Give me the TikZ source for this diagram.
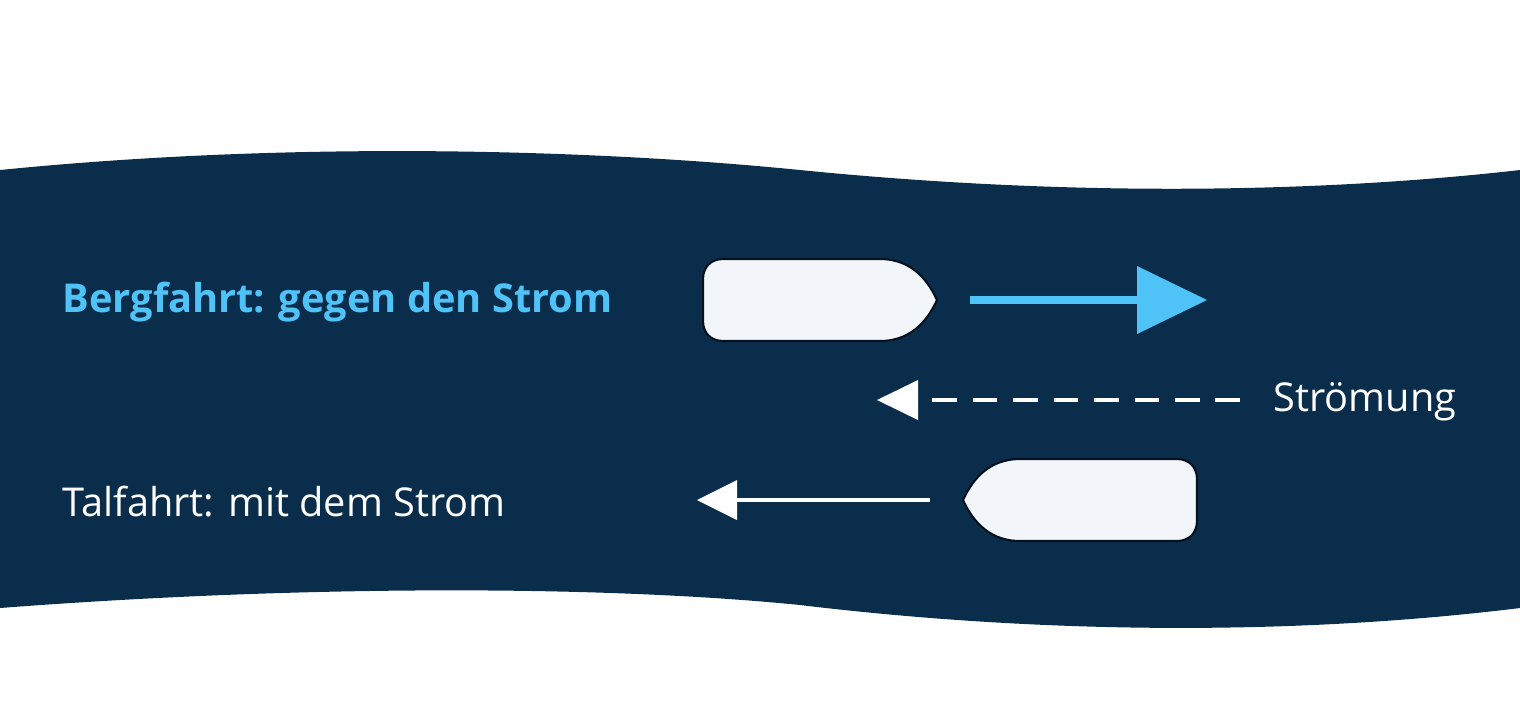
\documentclass[tikz,border=0pt]{standalone}
\usepackage{fontspec}
\setmainfont{Open Sans}
\definecolor{river}{HTML}{0B2D4C}
\definecolor{boat}{HTML}{F2F6FA}
\definecolor{sky}{HTML}{4FC3F7}
\begin{document}
\begin{tikzpicture}[x=0.01cm,y=-0.01cm,
  boatst/.style={fill=boat,draw=black!60!river,line width=0.6pt},
  lbl/.style={anchor=west,inner sep=0pt,font=\fontsize{11.3pt}{13pt}\selectfont}]
\useasboundingbox (0,0) rectangle (1520,720);
\fill[river] (0,170) .. controls (300,140) and (600,150) .. (800,170)
  .. controls (1050,195) and (1300,195) .. (1520,170) -- (1520,608)
  .. controls (1300,635) and (1050,635) .. (800,605)
  .. controls (600,585) and (300,585) .. (0,608) -- cycle;
% boat 1
\draw[boatst] (880,259) .. controls (915,259) and (930,285) .. (937,300)
  .. controls (930,315) and (915,341) .. (880,341) -- (723,341)
  .. controls (711,341) and (703,333) .. (703,321) -- (703,279)
  .. controls (703,267) and (711,259) .. (723,259) -- cycle;
\coordinate (b1) at (970,300);
\coordinate (b1e) at (1140,300);
\draw[sky,line width=2.3pt] (b1) -- (b1e);
\fill[sky] (1137,266) -- (1207,300) -- (1137,334) -- cycle;
% boat 2
\draw[boatst] (1020,459) .. controls (985,459) and (970,485) .. (963,500)
  .. controls (970,515) and (985,541) .. (1020,541) -- (1177,541)
  .. controls (1189,541) and (1197,533) .. (1197,521) -- (1197,479)
  .. controls (1197,467) and (1189,459) .. (1177,459) -- cycle;
\coordinate (b2) at (930,500);
\coordinate (b2e) at (735,500);
\draw[white,line width=1.2pt] (b2) -- (b2e);
\fill[white] (737,480) -- (697,500) -- (737,520) -- cycle;
% current
\coordinate (c1) at (1240,400);
\coordinate (c2) at (916,400);
\draw[white,line width=1.2pt,dash pattern=on 7pt off 4.5pt] (c1) -- (c2);
\fill[white] (918,380) -- (877,400) -- (918,420) -- cycle;
\node[lbl,text=white] (s) at (1273,402) {Strömung};
\node[lbl,text=sky,font=\fontsize{11.3pt}{13pt}\selectfont\bfseries] (berg) at (62,302) {Bergfahrt: gegen den Strom};
\node[lbl,text=white] (tal) at (62,502) {Talfahrt: mit dem Strom};
\end{tikzpicture}
\end{document}
